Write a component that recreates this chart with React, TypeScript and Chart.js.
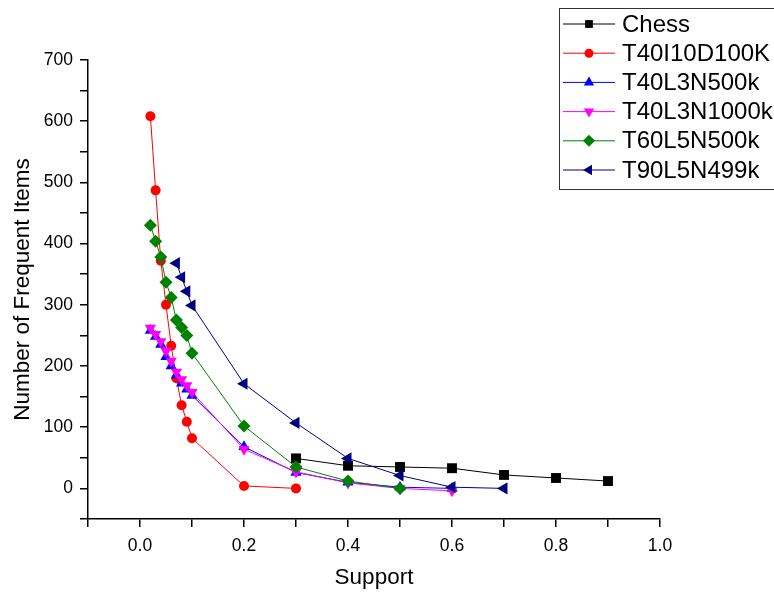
import React, { useEffect, useRef } from "react";
import { Chart, registerables } from "chart.js";

Chart.register(...registerables);

// ---- data ----
const seriesNames = ["Chess", "T40I10D100K", "T40L3N500k", "T40L3N1000k", "T60L5N500k", "T90L5N499k"];

const chessX = [0.3, 0.4, 0.5, 0.6, 0.7, 0.8, 0.9];
const chessY = [49, 37, 35, 33, 22, 17, 12];

const t40i10X = [0.02, 0.03, 0.04, 0.05, 0.06, 0.07, 0.08, 0.09, 0.1, 0.2, 0.3];
const t40i10Y = [608, 487, 372, 300, 233, 180, 136, 109, 82, 4, 0];

const t40l3n500X = [0.02, 0.03, 0.04, 0.05, 0.06, 0.07, 0.08, 0.09, 0.1, 0.2, 0.3, 0.4, 0.5, 0.6];
const t40l3n500Y = [258, 248, 235, 215, 200, 185, 172, 162, 152, 68, 26, 10, 2, 0];

const t40l3n1000X = [0.02, 0.03, 0.04, 0.05, 0.06, 0.07, 0.08, 0.09, 0.1, 0.2, 0.3, 0.4, 0.5, 0.6];
const t40l3n1000Y = [262, 252, 240, 224, 208, 190, 178, 168, 157, 64, 27, 9, 0, -4];

const t60l5X = [0.02, 0.03, 0.04, 0.05, 0.06, 0.07, 0.08, 0.09, 0.1, 0.2, 0.3, 0.4, 0.5];
const t60l5Y = [430, 404, 378, 337, 312, 275, 263, 250, 221, 102, 35, 12, 0];

const t90l5X = [0.07, 0.08, 0.09, 0.1, 0.2, 0.3, 0.4, 0.5, 0.6, 0.7];
const t90l5Y = [368, 345, 322, 299, 171, 107, 49, 21, 2, 0];

const xTickLabels = ["0.0", "0.2", "0.4", "0.6", "0.8", "1.0"];
const yTickLabels = ["0", "100", "200", "300", "400", "500", "600", "700"];

const FONT = "'Liberation Sans', Arial, sans-serif";

const styles = [
  { color: "#000000", style: "rect", rotation: 0, radius: 7, lr: 5.5 },
  { color: "#ff0000", style: "circle", rotation: 0, radius: 5, lr: 4.5 },
  { color: "#0000ff", style: "triangle", rotation: 0, radius: 6.5, lr: 6 },
  { color: "#ff00ff", style: "triangle", rotation: 180, radius: 6.5, lr: 6 },
  { color: "#008000", style: "rectRot", rotation: 0, radius: 6.5, lr: 6 },
  { color: "#000080", style: "triangle", rotation: 270, radius: 7, lr: 6 },
];

const xs = [chessX, t40i10X, t40l3n500X, t40l3n1000X, t60l5X, t90l5X];
const ys = [chessY, t40i10Y, t40l3n500Y, t40l3n1000Y, t60l5Y, t90l5Y];

function drawMarker(ctx: CanvasRenderingContext2D, style: string, rotation: number, r: number, x: number, y: number) {
  ctx.beginPath();
  if (style === "circle") {
    ctx.arc(x, y, r, 0, Math.PI * 2);
  } else if (style === "rect") {
    const s = Math.SQRT1_2 * r;
    ctx.rect(x - s, y - s, 2 * s, 2 * s);
  } else if (style === "rectRot") {
    ctx.moveTo(x, y - r);
    ctx.lineTo(x + r, y);
    ctx.lineTo(x, y + r);
    ctx.lineTo(x - r, y);
    ctx.closePath();
  } else if (style === "triangle") {
    let rad = (rotation * Math.PI) / 180;
    ctx.moveTo(x + Math.sin(rad) * r, y - Math.cos(rad) * r);
    rad += (2 * Math.PI) / 3;
    ctx.lineTo(x + Math.sin(rad) * r, y - Math.cos(rad) * r);
    rad += (2 * Math.PI) / 3;
    ctx.lineTo(x + Math.sin(rad) * r, y - Math.cos(rad) * r);
    ctx.closePath();
  }
  ctx.fill();
}

const legendPlugin = {
  id: "boxLegend",
  afterDraw(chart: any) {
    const ctx: CanvasRenderingContext2D = chart.ctx;
    ctx.save();
    ctx.strokeStyle = "#333333";
    ctx.lineWidth = 1;
    ctx.strokeRect(559.5, 8.5, 240, 181);
    ctx.font = `24px ${FONT}`;
    ctx.textBaseline = "middle";
    ctx.textAlign = "left";
    seriesNames.forEach((name, i) => {
      const st = styles[i];
      const y = 24 + i * 29.2;
      ctx.strokeStyle = st.color;
      ctx.lineWidth = 1;
      ctx.beginPath();
      ctx.moveTo(563, y);
      ctx.lineTo(615, y);
      ctx.stroke();
      ctx.fillStyle = st.color;
      drawMarker(ctx, st.style, st.rotation, st.lr, 589, y);
      ctx.fillStyle = "#000000";
      ctx.fillText(name, 622, y + 1);
    });
    ctx.restore();
  },
};

export default function App() {
  const ref = useRef<HTMLCanvasElement | null>(null);

  useEffect(() => {
    if (!ref.current) return;
    const datasets = seriesNames.map((name, i) => ({
      label: name,
      data: xs[i].map((x, j) => ({ x, y: ys[i][j] })),
      borderColor: styles[i].color,
      backgroundColor: styles[i].color,
      pointBackgroundColor: styles[i].color,
      pointBorderColor: styles[i].color,
      pointBorderWidth: 0,
      borderWidth: 1,
      pointStyle: styles[i].style,
      pointRotation: styles[i].rotation,
      pointRadius: styles[i].radius,
      showLine: true,
      order: seriesNames.length - i,
      clip: false as any,
    }));

    const chart = new Chart(ref.current, {
      type: "scatter",
      data: { datasets },
      options: {
        animation: false,
        responsive: false,
        layout: { padding: { left: 0, right: 114, top: 60, bottom: 0 } },
        plugins: { legend: { display: false }, tooltip: { enabled: false } },
        scales: {
          x: {
            type: "linear",
            min: -0.1,
            max: 1.0,
            afterFit: (s: any) => {
              s.height = 74;
            },
            grid: { display: true, drawOnChartArea: false, drawTicks: true, tickLength: 8, color: "#000", lineWidth: 1.5 },
            border: { display: true, color: "#000", width: 1.5 },
            ticks: {
              stepSize: 0.1,
              autoSkip: false,
              maxRotation: 0,
              padding: 9,
              color: "#000",
              font: { family: FONT, size: 17.5 },
              callback: (v: any) => {
                const k = Math.round(Number(v) * 10);
                return k >= 0 && k % 2 === 0 ? xTickLabels[k / 2] : "";
              },
            },
            title: { display: true, text: "Support", color: "#000", font: { family: FONT, size: 22.5 }, padding: { top: 0, bottom: 2 } },
          },
          y: {
            type: "linear",
            min: -50,
            max: 700,
            afterFit: (s: any) => {
              s.width = 88;
            },
            grid: { display: true, drawOnChartArea: false, drawTicks: true, tickLength: 8, color: "#000", lineWidth: 1.5 },
            border: { display: true, color: "#000", width: 1.5 },
            ticks: {
              stepSize: 50,
              autoSkip: false,
              padding: 7,
              color: "#000",
              font: { family: FONT, size: 17.5 },
              callback: (v: any) => {
                const n = Number(v);
                return n >= 0 && n % 100 === 0 ? yTickLabels[n / 100] : "";
              },
            },
            title: { display: true, text: "Number of Frequent Items", color: "#000", font: { family: FONT, size: 22.5 }, padding: { top: 9, bottom: 0 } },
          },
        },
      },
      plugins: [legendPlugin],
    } as any);
    return () => chart.destroy();
  }, []);

  return (
    <div style={{ position: "fixed", left: 0, top: 0, width: 774, height: 593, background: "#fff", overflow: "hidden" }}>
      <canvas ref={ref} width={774} height={593} style={{ display: "block" }} />
    </div>
  );
}
